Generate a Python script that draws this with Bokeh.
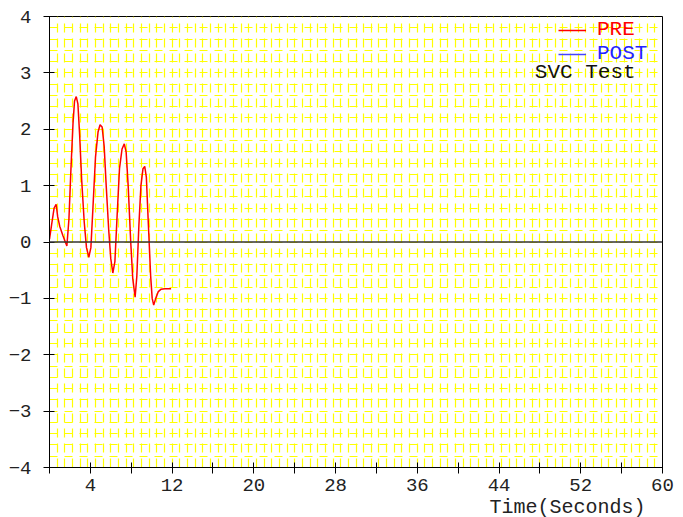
from bokeh.plotting import figure
from bokeh.models import (FixedTicker, SingleIntervalTicker, Span, Legend, LegendItem,
                          Label, Title, Range1d)
from bokeh.embed import file_html
from bokeh.resources import INLINE

# PRE series (red)
pre_t = [0.0, 0.2, 0.45, 0.65, 0.8, 1.0, 1.3, 1.55, 1.7,
         1.9, 2.1, 2.3, 2.45, 2.62, 2.78, 2.95, 3.15, 3.4, 3.62, 3.85,
         4.05, 4.25, 4.5, 4.75, 4.95, 5.15, 5.35, 5.55, 5.8, 6.0, 6.2,
         6.4, 6.6, 6.85, 7.1, 7.32, 7.5, 7.7, 7.95, 8.15, 8.38,
         8.55, 8.75, 8.95, 9.15, 9.32, 9.48, 9.68, 9.9, 10.05, 10.2,
         10.4, 10.65, 10.9, 11.3, 11.9]
pre_v = [0.05, 0.3, 0.6, 0.67, 0.45, 0.28, 0.12, 0.0, -0.07,
         0.4, 1.3, 2.1, 2.5, 2.58, 2.45, 1.9, 1.1, 0.35, -0.1, -0.27,
         -0.1, 0.6, 1.5, 1.95, 2.08, 2.04, 1.7, 1.0, 0.2, -0.3, -0.55,
         -0.35, 0.4, 1.3, 1.65, 1.74, 1.6, 1.0, 0.0, -0.65, -0.98,
         -0.6, 0.3, 1.0, 1.3, 1.34, 1.15, 0.3, -0.6, -1.0, -1.12,
         -1.0, -0.88, -0.84, -0.83, -0.83]

# POST series (blue) - nothing visible in the plot area
post_t = [float("nan")]
post_v = [float("nan")]

x_ticks = [0, 4, 8, 12, 16, 20, 24, 28, 32, 36, 40, 44, 48, 52, 56, 60]
x_labeled = [4, 12, 20, 28, 36, 44, 52, 60]
y_ticks = [-4, -3, -2, -1, 0, 1, 2, 3, 4]

MONO = "Liberation Mono"

p = figure(output_backend="svg", toolbar_location=None,
           frame_width=613, frame_height=451,
           min_border_left=49, min_border_right=21,
           min_border_top=16, min_border_bottom=48,
           x_range=Range1d(0, 60), y_range=Range1d(-4, 4),
           background_fill_color="white", border_fill_color="white",
           outline_line_color="black")

# grid (yellow dashed pattern)
p.xgrid.ticker = SingleIntervalTicker(interval=0.75)
p.ygrid.ticker = SingleIntervalTicker(interval=0.2)
p.xgrid.grid_line_color = "#FFFF00"
p.ygrid.grid_line_color = "#FFFF00"
p.xgrid.grid_line_width = 1.2
p.ygrid.grid_line_width = 1.2
p.xgrid.grid_line_dash = "9 6"
p.ygrid.grid_line_dash = "8 7"

# axes
p.xaxis.ticker = FixedTicker(ticks=x_ticks)
p.xaxis.major_label_overrides = {t: ("" if t not in x_labeled else str(t)) for t in x_ticks}
p.yaxis.ticker = FixedTicker(ticks=y_ticks)
p.yaxis.major_label_overrides = {t: (str(t) if t >= 0 else "\u2212" + str(-t)) for t in y_ticks}
for ax in (p.xaxis, p.yaxis):
    ax.minor_tick_line_color = None
    ax.axis_line_color = "black"
    ax.major_tick_line_color = "black"
    ax.major_tick_in = 5
    ax.major_tick_out = 6
    ax.major_label_text_font = MONO
    ax.major_label_text_font_size = "19px"
    ax.major_label_text_color = "#222222"
p.yaxis.major_label_standoff = 12
p.xaxis.major_label_standoff = 5

p.add_layout(Span(location=0, dimension="width", line_color="#333333", line_width=1.5))

r_pre = p.line(pre_t, pre_v, line_color="#FF0000", line_width=1.5)
r_post = p.line(post_t, post_v, line_color="#4444FF", line_width=1.5)

leg1 = Legend(items=[LegendItem(label="PRE", renderers=[r_pre])],
              location=(509, 426), label_text_color="#FF0000")
leg2 = Legend(items=[LegendItem(label="POST", renderers=[r_post])],
              location=(509, 402), label_text_color="#2222FF")
for lg in (leg1, leg2):
    lg.background_fill_alpha = 0
    lg.border_line_color = None
    lg.padding = 0
    lg.margin = 0
    lg.spacing = 0
    lg.glyph_width = 28
    lg.glyph_height = 20
    lg.label_height = 20
    lg.label_standoff = 11
    lg.label_text_font = MONO
    lg.label_text_font_size = "21px"
    p.add_layout(lg)

p.add_layout(Label(x=47.5, y=3.0, text="SVC Test", text_font=MONO,
                   text_font_size="21px", text_baseline="middle", text_color="#111111"))

p.add_layout(Title(text="Time(Seconds)", align="right", offset=17,
                   text_font=MONO, text_font_size="20px", text_font_style="normal",
                   text_line_height=1.0, text_color="#222222", standoff=0), "below")

open("out.html", "w").write(file_html(p, INLINE))
